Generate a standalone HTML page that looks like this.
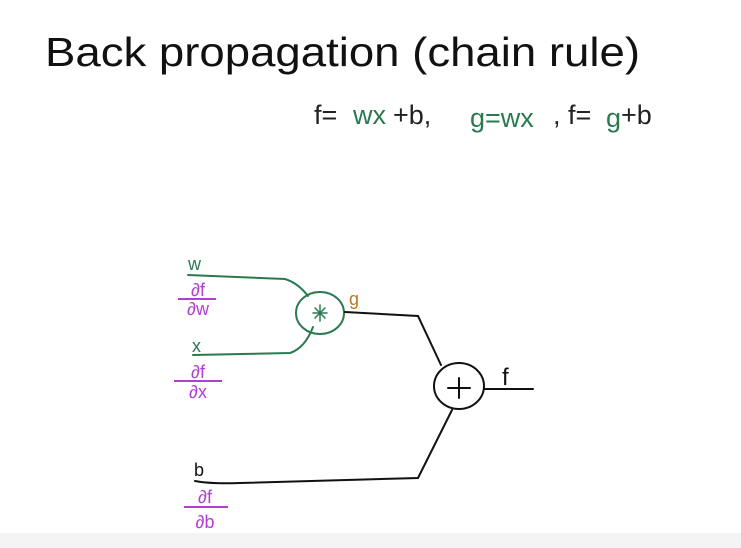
<!DOCTYPE html>
<html><head><meta charset="utf-8"><style>
html,body{margin:0;padding:0;background:#fff;}
body{width:741px;height:548px;overflow:hidden;position:relative;font-family:"Liberation Sans",sans-serif;}
</style></head><body>
<svg width="741" height="548" viewBox="0 0 741 548" xmlns="http://www.w3.org/2000/svg" style="position:absolute;left:0;top:0">
<rect x="0" y="533" width="741" height="15" fill="#f4f4f4"/>
<text x="45" y="66" font-family="Liberation Sans, sans-serif" font-size="41" fill="#111" textLength="595" lengthAdjust="spacingAndGlyphs">Back propagation (chain rule)</text>
<g font-family="Liberation Sans, sans-serif" font-size="27" fill="#222">
<text x="314" y="124">f=</text>
<text x="353" y="124" fill="#2a7a50">wx</text>
<text x="393" y="124">+b,</text>
<text x="470" y="127" fill="#2a7a50">g=wx</text>
<text x="553" y="124">, f=</text>
<text x="606" y="127" fill="#2a7a50">g</text>
<text x="621" y="124">+b</text>
</g>
<g fill="none" stroke-width="2" stroke-linecap="round">
<path d="M188 275 L285 279 Q298 283 308 296" stroke="#2a7a50"/>
<path d="M193 355 L290 353 Q305 348 313 327" stroke="#2a7a50"/>
<ellipse cx="320" cy="313" rx="24" ry="21" stroke="#2a7a50"/>
<path d="M345 312 L418 316 L441 365" stroke="#111"/>
<ellipse cx="459" cy="386" rx="25" ry="23" stroke="#111"/>
<path d="M484 389 L533 389" stroke="#111"/>
<path d="M195 481 Q210 484 240 483 L418 478 L452 410" stroke="#111"/>
<path d="M313 313 L327 313 M320 305 L320 321 M315 308 L325 318 M325 308 L315 318" stroke="#2a7a50" stroke-width="1.5"/>
<path d="M448 388 L470 388 M459 378 L459 398" stroke="#111"/>
</g>
<g font-family="Liberation Sans, sans-serif" font-size="18">
<text x="188" y="270" fill="#2a7a50">w</text>
<text x="192" y="352" fill="#2a7a50">x</text>
<text x="194" y="476" fill="#111">b</text>
<text x="349" y="305" fill="#b8782a">g</text>
<text x="502" y="385" fill="#111" font-size="24">f</text>
</g>
<g font-family="Liberation Sans, sans-serif" font-size="18" fill="#b040d0" text-anchor="middle">
<text x="198" y="296">∂f</text><line x1="178" y1="299" x2="216" y2="299" stroke="#b040d0" stroke-width="2"/><text x="198" y="315">∂w</text>
<text x="198" y="378">∂f</text><line x1="174" y1="381" x2="222" y2="381" stroke="#b040d0" stroke-width="2"/><text x="198" y="398">∂x</text>
<text x="205" y="503">∂f</text><line x1="184" y1="507" x2="228" y2="507" stroke="#b040d0" stroke-width="2"/><text x="205" y="528">∂b</text>
</g>
</svg>
</body></html>
